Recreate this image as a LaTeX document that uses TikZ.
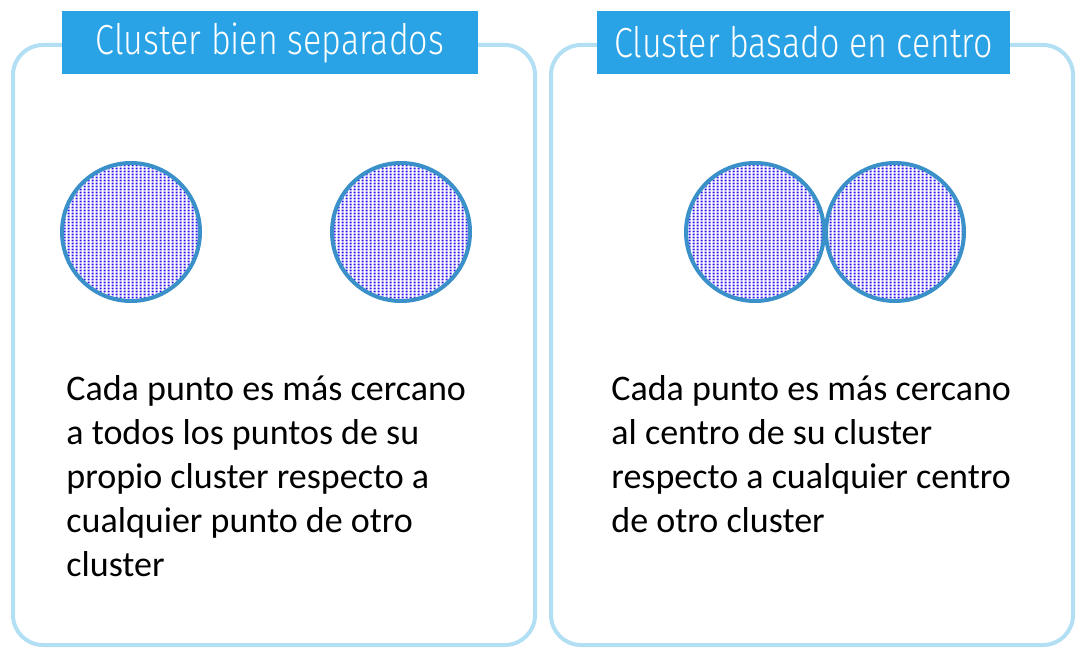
\documentclass[tikz,border=0pt]{standalone}
\usepackage{fontspec}
\setmainfont{Carlito}
\newfontfamily\titlefont[FakeStretch=0.81]{Fira Sans Light}
\usetikzlibrary{patterns.meta}
\definecolor{framecol}{HTML}{B3DFF5}
\definecolor{titlecol}{HTML}{29A3E5}
\definecolor{ringcol}{HTML}{3A91C9}
\definecolor{dotcol}{HTML}{2A10F0}
\tikzdeclarepattern{
  name=finedots,
  type=uncolored,
  bounding box={(0pt,0pt) and (1.85pt,1.7pt)},
  tile size={(1.85pt,1.7pt)},
  code={\fill (0.4pt,0.35pt) rectangle (1.45pt,1.4pt);}
}
\tikzset{
  panel/.style={draw=framecol,line width=2pt,rounded corners=15pt},
  titlebox/.style={fill=titlecol,text=white,inner sep=0pt,minimum width=#1,
    minimum height=31.5pt,font=\titlefont\fontsize{21}{24}\selectfont},
  blob/.style={circle,draw=ringcol,line width=2pt,minimum size=69pt,inner sep=0pt,
    pattern={finedots},pattern color=dotcol},
  bodytext/.style={anchor=base west,align=left,inner sep=0pt,
    font=\fontsize{18}{22}\selectfont}
}
\begin{document}
\begin{tikzpicture}[x=0.5pt,y=-0.5pt]
\useasboundingbox (0,0) rectangle (1085,658);
% marcos
\draw[panel] (13,45) rectangle (535,645);
\draw[panel] (551,45) rectangle (1073,645);
% titulos
\node[titlebox=208pt] (tit1) at (270,42.5) {Cluster bien separados};
\node[titlebox=206.5pt] (tit2) at (803.5,42.5) {Cluster basado en centro};
% clusters
\node[blob] (c1) at (131,232) {};
\node[blob] (c2) at (401,232) {};
\node[blob] (c3) at (755,232) {};
\node[blob] (c4) at (895,232) {};
% textos (base = ultima linea)
\node[bodytext] (txt1) at (66,576) {Cada punto es más cercano\\a todos los puntos de su\\propio cluster respecto a\\cualquier punto de otro\\cluster};
\node[bodytext] (txt2) at (611,532) {Cada punto es más cercano\\al centro de su cluster\\respecto a cualquier centro\\de otro cluster};
\end{tikzpicture}
\end{document}
